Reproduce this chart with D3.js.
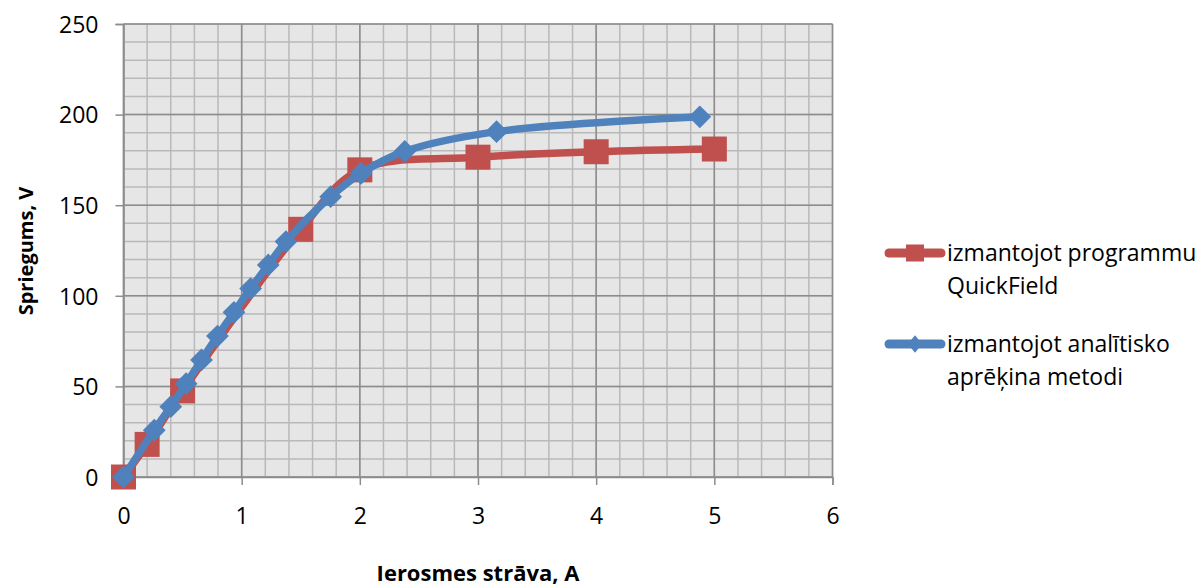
<!DOCTYPE html>
<html><head><meta charset="utf-8">
<script src="https://cdn.jsdelivr.net/npm/d3@7"></script>
<style>body{margin:0;background:#fff}svg{display:block}text{font-family:"Open Sans",sans-serif;fill:#000}</style>
</head><body><svg id="c" width="1204" height="586"></svg>
<script>
// Data
const quickX = [0, 0.2, 0.5, 1.5, 2, 3, 4, 5];
const quickY = [0, 18, 47.5, 136.7, 169.5, 176.5, 179.5, 181];
const analX = [0, 0.26, 0.40, 0.53, 0.66, 0.795, 0.935, 1.076, 1.225, 1.375, 1.753, 2.01, 2.38, 3.157, 4.877];
const analY = [0, 25.8, 38.8, 51.5, 64.6, 77.8, 90.9, 104, 117, 129.9, 154.7, 167.6, 179.7, 190.6, 198.8];
const seriesNames = [["izmantojot programmu", "QuickField"], ["izmantojot analītisko", "aprēķina metodi"]];
const xTicks = [0, 1, 2, 3, 4, 5, 6];
const yTicks = [0, 50, 100, 150, 200, 250];
const xTitle = "Ierosmes strāva, A";
const yTitle = "Spriegums, V";

const red = "#C0504D", blue = "#4F81BD";
const svg = d3.select("#c");
const x = d3.scaleLinear().domain([0, 6]).range([123.5, 832.5]);
const y = d3.scaleLinear().domain([0, 250]).range([477, 24]);

// plot background
svg.append("rect").attr("x", x(0)).attr("y", y(250)).attr("width", x(6) - x(0)).attr("height", y(0) - y(250)).attr("fill", "#E6E6E6");

// minor gridlines
const g = svg.append("g");
g.selectAll(".vx").data(x.ticks(30)).join("line")
  .attr("x1", d => x(d)).attr("x2", d => x(d)).attr("y1", y(0)).attr("y2", y(250))
  .attr("stroke", "#B9B9B9").attr("stroke-width", 1.5);
g.selectAll(".hy").data(y.ticks(25)).join("line")
  .attr("y1", d => y(d)).attr("y2", d => y(d)).attr("x1", x(0)).attr("x2", x(6))
  .attr("stroke", "#B9B9B9").attr("stroke-width", 1.5);
// major gridlines
g.selectAll(".vX").data(xTicks).join("line")
  .attr("x1", d => x(d)).attr("x2", d => x(d)).attr("y1", y(0)).attr("y2", y(250))
  .attr("stroke", "#8C8C8C").attr("stroke-width", 1.5);
g.selectAll(".hY").data(yTicks).join("line")
  .attr("y1", d => y(d)).attr("y2", d => y(d)).attr("x1", x(0)).attr("x2", x(6))
  .attr("stroke", "#8C8C8C").attr("stroke-width", 1.5);

// axes
const xa = svg.append("g").attr("transform", `translate(0,${y(0)})`)
  .call(d3.axisBottom(x).tickValues(xTicks).tickSize(8).tickPadding(23).tickFormat(d3.format("d")));
const ya = svg.append("g").attr("transform", `translate(${x(0)},0)`)
  .call(d3.axisLeft(y).tickValues(yTicks).tickSize(8).tickPadding(17).tickFormat(d3.format("d")));
[xa, ya].forEach(a => {
  a.select(".domain").attr("stroke", "#8C8C8C").attr("stroke-width", 1.5);
  a.selectAll(".tick line").attr("stroke", "#8C8C8C").attr("stroke-width", 1.5);
  a.selectAll("text").attr("font-size", 23).attr("font-family", "Open Sans");
});
ya.selectAll("text").attr("dy", "0.36em");

// series
const line = d3.line().x(d => x(d[0])).y(d => y(d[1])).curve(d3.curveCatmullRom.alpha(0.5));
const qd = quickX.map((v, i) => [v, quickY[i]]);
const ad = analX.map((v, i) => [v, analY[i]]);

svg.append("path").datum(qd).attr("d", line).attr("fill", "none").attr("stroke", red).attr("stroke-width", 7.5).attr("stroke-linejoin", "round");
svg.selectAll(".sq").data(qd).join("rect")
  .attr("x", d => x(d[0]) - 12.5).attr("y", d => y(d[1]) - 12.5).attr("width", 25).attr("height", 25).attr("fill", red);

svg.append("path").datum(ad).attr("d", line).attr("fill", "none").attr("stroke", blue).attr("stroke-width", 7.5).attr("stroke-linejoin", "round");
const dia = d3.symbol().type(d3.symbolDiamond2).size(330);
svg.selectAll(".dm").data(ad).join("path")
  .attr("transform", d => `translate(${x(d[0])},${y(d[1])})`).attr("d", dia).attr("fill", blue);

// axis titles
svg.append("text").attr("x", (x(0) + x(6)) / 2).attr("y", 581).attr("text-anchor", "middle")
  .attr("font-size", 22).attr("font-weight", "bold").text(xTitle);
svg.append("text").attr("transform", "translate(33,251) rotate(-90)").attr("text-anchor", "middle")
  .attr("font-size", 20).attr("font-weight", "bold").text(yTitle);

// legend
const leg = [{c: red, t: "sq", y: 253, names: seriesNames[0]}, {c: blue, t: "dm", y: 344, names: seriesNames[1]}];
leg.forEach(l => {
  const lg = svg.append("g");
  lg.append("line").attr("x1", 889).attr("x2", 941).attr("y1", l.y).attr("y2", l.y)
    .attr("stroke", l.c).attr("stroke-width", 9).attr("stroke-linecap", "round");
  if (l.t === "sq") lg.append("rect").attr("x", 906).attr("y", l.y - 8.5).attr("width", 18).attr("height", 17).attr("fill", l.c);
  else lg.append("path").attr("transform", `translate(915,${l.y}) scale(0.8,1)`).attr("d", d3.symbol().type(d3.symbolDiamond2).size(200)).attr("fill", l.c);
  l.names.forEach((n, i) => lg.append("text").attr("x", 947).attr("y", l.y + 7.5 + i * 33).attr("font-size", 23).text(n));
});
</script></body></html>
